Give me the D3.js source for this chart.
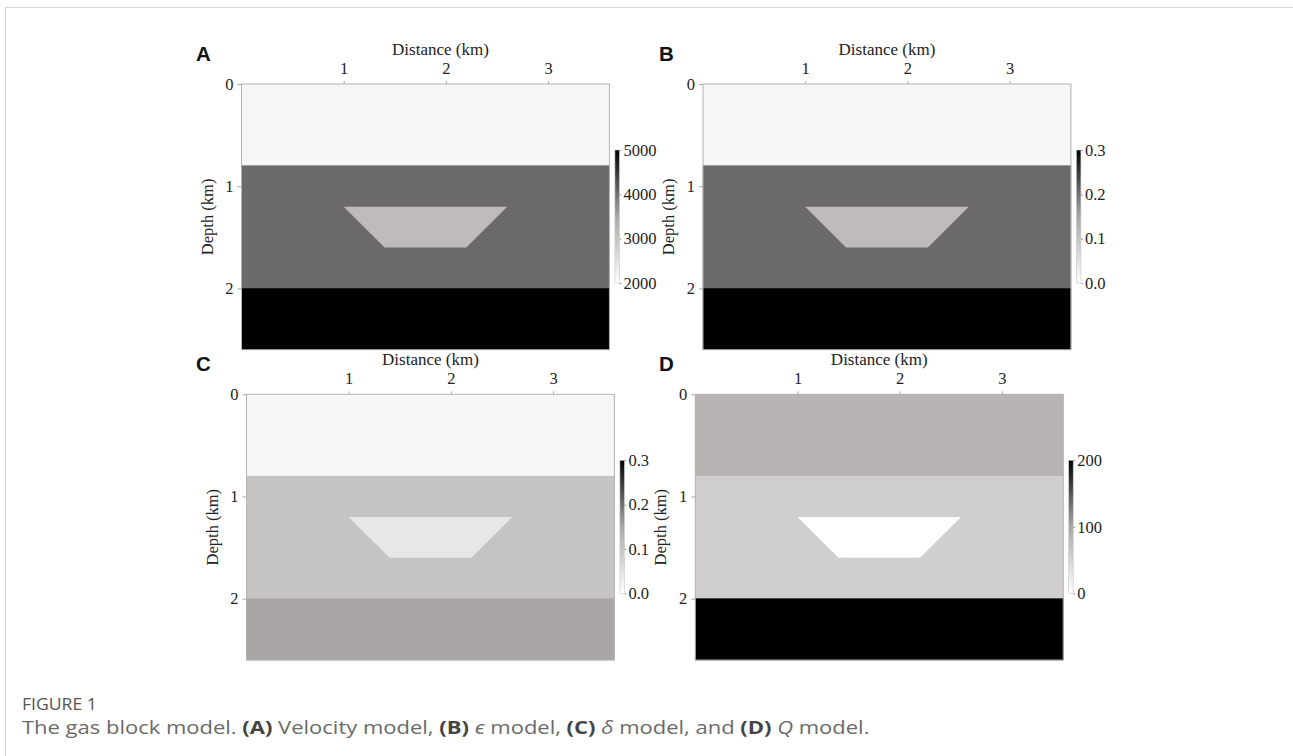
<!DOCTYPE html>
<html>
<head>
<meta charset="utf-8">
<script src="https://cdn.jsdelivr.net/npm/d3@7"></script>
<style>
  html, body { margin: 0; padding: 0; background: #fff; }
  svg { display: block; }
</style>
</head>
<body>
<svg id="fig" width="1293" height="756"></svg>
<script>
// ---- model geometry (km) ----
const distanceDomain = [0, 3.6];
const depthDomain = [0, 2.6];
const distanceTicks = [1, 2, 3];
const depthTicks = [0, 1, 2];
const layerTop = [0, 0.8, 2.0];
const layerBottom = [0.8, 2.0, 2.6];
// gas block trapezoid corners
const gasDistance = [1.0, 2.6, 2.2, 1.4];
const gasDepth = [1.2, 1.2, 1.6, 1.6];

// ---- property values: three layers + gas block ----
const velocityLayers = [2150, 4050, 5000];
const velocityGas = 3150;
const epsilonLayers = [0.015, 0.205, 0.3];
const epsilonGas = 0.115;
const deltaLayers = [0.015, 0.1, 0.15];
const deltaGas = 0.04;
const qLayers = [85, 55, 200];
const qGas = 0;

// ---- colour bar ranges and tick labels ----
const velocityRange = [2000, 5000];
const velocityTicks = [2000, 3000, 4000, 5000];
const epsilonRange = [0, 0.3];
const epsilonTicks = [0.0, 0.1, 0.2, 0.3];
const deltaRange = [0, 0.3];
const deltaTicks = [0.0, 0.1, 0.2, 0.3];
const qRange = [0, 200];
const qTicks = [0, 100, 200];

const panelLetters = ["A", "B", "C", "D"];

// grey colour map (white -> black)
const greyMap = d3.scaleLinear().domain([0, 0.5, 1])
  .range(["#ffffff", "#aaa6a5", "#000000"]).interpolate(d3.interpolateRgb);

const panels = [
  { letter: panelLetters[0], layers: velocityLayers, gas: velocityGas, range: velocityRange, ticks: velocityTicks, fmt: d3.format("d"),
    x0: 241.5, y0: 84, titleDx: 15 },
  { letter: panelLetters[1], layers: epsilonLayers, gas: epsilonGas, range: epsilonRange, ticks: epsilonTicks, fmt: d3.format(".1f"),
    x0: 703, y0: 84, titleDx: 0 },
  { letter: panelLetters[2], layers: deltaLayers, gas: deltaGas, range: deltaRange, ticks: deltaTicks, fmt: d3.format(".1f"),
    x0: 246.5, y0: 394.3, titleDx: 0 },
  { letter: panelLetters[3], layers: qLayers, gas: qGas, range: qRange, ticks: qTicks, fmt: d3.format("d"),
    x0: 695.3, y0: 394.3, titleDx: 0 }
];

const pxPerKm = 102.2;
const svg = d3.select("#fig");
const defs = svg.append("defs");
const serif = "'Liberation Serif', 'Times New Roman', serif";

// figure box lines
svg.append("line").attr("x1", 5).attr("x2", 1293).attr("y1", 7.5).attr("y2", 7.5)
  .attr("stroke", "#d6d6d6").attr("stroke-width", 1.2);
svg.append("line").attr("x1", 5.5).attr("x2", 5.5).attr("y1", 7).attr("y2", 756)
  .attr("stroke", "#d6d6d6").attr("stroke-width", 1.2);

panels.forEach((p, i) => {
  const w = (distanceDomain[1] - distanceDomain[0]) * pxPerKm;
  const h = (depthDomain[1] - depthDomain[0]) * pxPerKm;
  const x = d3.scaleLinear().domain(distanceDomain).range([p.x0, p.x0 + w]);
  const y = d3.scaleLinear().domain(depthDomain).range([p.y0, p.y0 + h]);
  const c = d3.scaleLinear().domain(p.range).range([0, 1]).clamp(true);
  const g = svg.append("g");

  // layers
  g.selectAll("rect.layer").data(p.layers).join("rect")
    .attr("class", "layer")
    .attr("x", x(distanceDomain[0]))
    .attr("width", x(distanceDomain[1]) - x(distanceDomain[0]))
    .attr("y", (d, k) => y(layerTop[k]))
    .attr("height", (d, k) => y(layerBottom[k]) - y(layerTop[k]))
    .attr("fill", d => greyMap(c(d)))
    .attr("stroke", d => greyMap(c(d)))
    .attr("stroke-width", 0.5);

  // gas block
  const pts = gasDistance.map((d, k) => [x(d), y(gasDepth[k])]);
  g.append("path")
    .attr("d", d3.line()(pts) + "Z")
    .attr("fill", greyMap(c(p.gas)));

  // plot frame
  g.append("rect")
    .attr("x", x(distanceDomain[0])).attr("y", y(depthDomain[0]))
    .attr("width", w).attr("height", h)
    .attr("fill", "none").attr("stroke", "#b4b4b4").attr("stroke-width", 1);

  // top distance axis
  const xAxis = g.append("g").attr("transform", `translate(0,${y(0)})`)
    .call(d3.axisTop(x).tickValues(distanceTicks).tickSize(3).tickFormat(d3.format("d")));
  xAxis.select(".domain").remove();
  xAxis.selectAll("line").attr("stroke", "#aaa");
  xAxis.selectAll("text").attr("font-family", serif).attr("font-size", 16.5).attr("fill", "#222")
    .attr("dy", 0).attr("y", -10);

  g.append("text")
    .attr("x", (x(distanceDomain[0]) + x(distanceDomain[1])) / 2 + p.titleDx)
    .attr("y", y(0) - 29)
    .attr("text-anchor", "middle")
    .attr("font-family", serif).attr("font-size", 17).attr("fill", "#222")
    .text("Distance (km)");

  // left depth axis
  const yAxis = g.append("g").attr("transform", `translate(${x(0)},0)`)
    .call(d3.axisLeft(y).tickValues(depthTicks).tickSize(4).tickFormat(d3.format("d")));
  yAxis.select(".domain").remove();
  yAxis.selectAll("line").attr("stroke", "#aaa");
  yAxis.selectAll("text").attr("font-family", serif).attr("font-size", 16.5).attr("fill", "#222")
    .attr("x", -8);

  g.append("text")
    .attr("transform", `translate(${x(0) - 29},${(y(depthDomain[0]) + y(depthDomain[1])) / 2}) rotate(-90)`)
    .attr("text-anchor", "middle")
    .attr("font-family", serif).attr("font-size", 16.5).attr("fill", "#222")
    .text("Depth (km)");

  // panel letter
  g.append("text")
    .attr("x", i % 2 === 0 ? 196 : 659)
    .attr("y", y(0) - 23)
    .attr("font-family", "'Liberation Sans', Arial, sans-serif")
    .attr("font-weight", "bold").attr("font-size", 20.5).attr("fill", "#111")
    .text(p.letter);

  // colour bar
  const cbX = x(distanceDomain[1]) + 5.5;
  const cbTop = y(0) + 66;
  const cbBottom = y(0) + 199;
  const gradId = "grad" + i;
  const grad = defs.append("linearGradient").attr("id", gradId)
    .attr("x1", 0).attr("y1", 1).attr("x2", 0).attr("y2", 0);
  d3.range(0, 1.0001, 0.05).forEach(t => {
    grad.append("stop").attr("offset", t).attr("stop-color", greyMap(t));
  });
  g.append("rect")
    .attr("x", cbX).attr("y", cbTop).attr("width", 4.5).attr("height", cbBottom - cbTop)
    .attr("fill", `url(#${gradId})`).attr("stroke", "#c8c8c8").attr("stroke-width", 0.6);

  const cScale = d3.scaleLinear().domain(p.range).range([cbBottom, cbTop]);
  const cAxis = g.append("g").attr("transform", `translate(${cbX + 4.5},0)`)
    .call(d3.axisRight(cScale).tickValues(p.ticks).tickSize(2).tickFormat(p.fmt));
  cAxis.select(".domain").remove();
  cAxis.selectAll("line").attr("stroke", "#999");
  cAxis.selectAll("text").attr("font-family", serif).attr("font-size", 16.5).attr("fill", "#222")
    .attr("x", 4);
});

// caption
function fitWidth(sel, x0, y0, target) {
  const wNow = sel.node().getComputedTextLength();
  sel.attr("transform", `translate(${x0},${y0}) scale(${target / wNow},1) translate(${-x0},${-y0})`);
}
const capFont = "'Open Sans', 'Noto Sans', sans-serif";
const cap1 = svg.append("text")
  .attr("x", 22).attr("y", 710)
  .attr("font-family", capFont)
  .attr("font-size", 17).attr("fill", "#555")
  .text("FIGURE 1");
fitWidth(cap1, 22, 710, 75);

const cap2 = svg.append("text")
  .attr("x", 22).attr("y", 734)
  .attr("font-family", capFont)
  .attr("font-size", 17.5).attr("fill", "#6a6a6a");
const parts = [
  ["The gas block model. ", "normal", "normal"],
  ["(A)", "bold", "normal"], [" Velocity model, ", "normal", "normal"],
  ["(B)", "bold", "normal"], [" ", "normal", "normal"], ["ϵ", "normal", "italic"], [" model, ", "normal", "normal"],
  ["(C)", "bold", "normal"], [" ", "normal", "normal"], ["δ", "normal", "italic"], [" model, and ", "normal", "normal"],
  ["(D)", "bold", "normal"], [" ", "normal", "normal"], ["Q", "normal", "italic"], [" model.", "normal", "normal"]
];
parts.forEach(([t, wgt, sty]) => {
  cap2.append("tspan").attr("font-weight", wgt).attr("font-style", sty)
    .attr("fill", wgt === "bold" ? "#444" : "#6a6a6a").text(t);
});
fitWidth(cap2, 22, 734, 848);
</script>
</body>
</html>
